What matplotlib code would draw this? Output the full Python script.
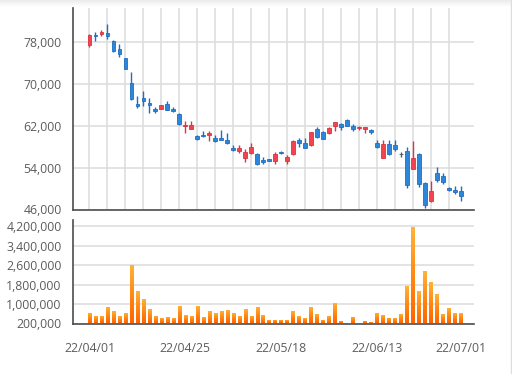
import matplotlib
matplotlib.use("Agg")
import matplotlib.pyplot as plt
import numpy as np
from matplotlib.lines import Line2D
from matplotlib.ticker import FuncFormatter
from matplotlib.colors import LinearSegmentedColormap

plt.rcParams['font.family'] = ['Open Sans', 'DejaVu Sans']

# ---- data (trading days 2022/04/01 .. 2022/07/01) ----
opens = [77400, 79200, 79500, 79700, 78200, 76500, 74800, 70100, 66100, 67300,
         66250, 65200, 65200, 66200, 65100, 64200, 61900, 61400, 60100, 60200,
         60200, 59600, 59700, 59300, 57700, 57200, 55900, 56700, 56600, 55500,
         55600, 55300, 56900, 55300, 56500, 59300, 58600, 58300, 61400, 60700,
         60500, 62000, 62300, 63100, 62000, 61500, 61400, 61100, 58600, 55900,
         58400, 58200, 56500, 57200, 53700, 56600, 51100, 47600, 52900, 52300,
         50050, 49800, 49600]
highs = [79500, 79800, 80200, 81400, 78300, 77600, 74900, 72200, 67700, 68500,
         67300, 65500, 66000, 66600, 65500, 64300, 62800, 62900, 60200, 61000,
         60900, 60200, 61200, 60500, 58200, 58200, 57600, 58700, 56800, 56100,
         55700, 56900, 57200, 56300, 59200, 59700, 59700, 60800, 61700, 61000,
         61700, 62700, 62400, 63200, 62300, 62000, 61800, 61400, 59300, 59300,
         59300, 59300, 56900, 57900, 59000, 56700, 51200, 51500, 54100, 52900,
         50300, 50400, 50400]
lows = [76900, 78100, 79100, 78400, 76100, 75000, 72700, 66800, 65400, 65800,
        64400, 64400, 65100, 64900, 64500, 62100, 60600, 61300, 59300, 59800,
        59100, 58800, 59200, 58500, 57200, 56700, 55000, 56600, 54400, 54600,
        55200, 54700, 56600, 54700, 56400, 57900, 57700, 58100, 59700, 59400,
        60400, 60900, 61100, 61900, 61000, 61100, 60500, 60400, 57800, 55900,
        56300, 57200, 56000, 50100, 53700, 50300, 46200, 47500, 51200, 50900,
        49500, 48900, 47700]
closes = [79300, 79000, 79800, 79000, 76200, 75700, 72800, 67000, 65800, 66600,
          66000, 64800, 65900, 65000, 64700, 62200, 62100, 62100, 59500, 60000,
          60600, 59100, 59300, 58700, 57400, 57700, 57000, 57900, 54600, 55100,
          55300, 56600, 56700, 56100, 59100, 58600, 57800, 60700, 59800, 59500,
          61600, 62600, 61700, 62000, 61400, 61800, 61750, 60800, 57900, 58500,
          56600, 57600, 56500, 50600, 55900, 50800, 46900, 49500, 51700, 51200,
          49750, 49300, 48500]
volumes = [640000, 500000, 500000, 890000, 700000, 500000, 640000, 2610000, 1540000, 1190000,
           790000, 500000, 410000, 450000, 410000, 930000, 560000, 500000, 930000, 450000,
           700000, 640000, 700000, 750000, 640000, 500000, 790000, 500000, 890000, 545000,
           350000, 350000, 350000, 350000, 700000, 500000, 410000, 890000, 600000, 350000,
           500000, 1030000, 300000, 150000, 450000, 150000, 300000, 250000, 640000, 545000,
           410000, 410000, 590000, 1720000, 4160000, 1520000, 2350000, 1920000, 1410000, 590000,
           830000, 640000, 640000]
xtick_pos = [0, 16, 32, 48, 62]
xtick_labels = ['22/04/01', '22/04/25', '22/05/18', '22/06/13', '22/07/01']
price_ticks = [46000, 54000, 62000, 70000, 78000]
vol_ticks = [200000, 1000000, 1800000, 2600000, 3400000, 4200000]

RED = '#f2434f'
RED_E = '#d93542'
BLUE = '#2b86dc'
BLUE_E = '#1f6fc0'
DOJI = '#4a5866'
GRID = '#dedede'
SPINE = '#4d4d4d'
TXT = '#5c5c5c'

fig = plt.figure(figsize=(5.12, 3.74), dpi=100)

W, H = 512.0, 374.0
def rect(l, t, r, b):
    return [l / W, 1 - b / H, (r - l) / W, (b - t) / H]

ax = fig.add_axes(rect(72.7, 8, 474, 209.5))
axv = fig.add_axes(rect(72.7, 220, 474, 323.5))

x = np.arange(len(opens))
o = np.array(opens, float); c = np.array(closes, float)
hi = np.array(highs, float); lo = np.array(lows, float)
up = c > o
dn = c < o
colors = np.where(up, RED, np.where(dn, BLUE, DOJI))
ecolors = np.where(up, RED_E, np.where(dn, BLUE_E, DOJI))

ax.vlines(x, lo, hi, colors=ecolors, linewidth=1.0, zorder=3)
bottoms = np.minimum(o, c)
heights = np.maximum(np.abs(c - o), 150)
ax.bar(x, heights, bottom=bottoms, width=0.62, color=colors, edgecolor=ecolors,
       linewidth=0.6, zorder=4)

ax.set_xlim(-2.8, 64.2)
ax.set_ylim(46000, 84400)
ax.set_yticks(price_ticks)
ax.yaxis.set_major_formatter(FuncFormatter(lambda v, p: f"{int(v):,}"))
ax.set_xticks(np.arange(0, 61, 3))
ax.tick_params(axis='x', length=0, labelbottom=False)
ax.tick_params(axis='y', length=0, pad=8, labelsize=8.8, labelcolor=TXT)
ax.grid(True, color=GRID, linewidth=1.2, zorder=0)
ax.set_axisbelow(True)
for s in ['top', 'right']:
    ax.spines[s].set_visible(False)
for s in ['left', 'bottom']:
    ax.spines[s].set_color(SPINE)
    ax.spines[s].set_linewidth(1.2)

# volume with per-bar gradient
grad = np.linspace(0, 1, 64).reshape(-1, 1)
cmap = LinearSegmentedColormap.from_list('og', ['#ff6400', '#ff8a14', '#ffb43c'])
bars = axv.bar(x, volumes, width=0.56, color='none', edgecolor='none', zorder=3)
for b, v in zip(bars, volumes):
    if v <= vol_ticks[0]:
        continue
    x0 = b.get_x(); w = b.get_width()
    im = axv.imshow(grad, cmap=cmap, origin='lower', aspect='auto',
                    extent=[x0, x0 + w, vol_ticks[0], v], zorder=3, interpolation='bilinear')
    im.set_clip_path(b)

axv.set_xlim(-2.8, 64.2)
axv.set_ylim(200000, 4450000)
axv.set_yticks(vol_ticks)
axv.yaxis.set_major_formatter(FuncFormatter(lambda v, p: f"{int(v):,}"))
axv.set_xticks(xtick_pos)
axv.set_xticklabels(xtick_labels)
axv.tick_params(axis='x', length=0, pad=13, labelsize=8.8, labelcolor=TXT)
axv.tick_params(axis='y', length=0, pad=8, labelsize=8.8, labelcolor=TXT)
axv.grid(True, axis='y', color=GRID, linewidth=1.2, zorder=0)
axv.set_axisbelow(True)
for s in ['top', 'right']:
    axv.spines[s].set_visible(False)
for s in ['left', 'bottom']:
    axv.spines[s].set_color(SPINE)
    axv.spines[s].set_linewidth(1.2)

# top shade band and right border
band = fig.add_axes([0, 1 - 7 / H, 1, 7 / H])
band.imshow(np.linspace(0, 1, 16).reshape(-1, 1), cmap=LinearSegmentedColormap.from_list('g', ['#ffffff', '#ececec']),
            aspect='auto', origin='lower', extent=[0, 1, 0, 1])
band.set_axis_off()
fig.add_artist(Line2D([510.5 / W, 510.5 / W], [0, 1], color='#dddddd', linewidth=1.0))

fig.savefig('out.png', dpi=100)
